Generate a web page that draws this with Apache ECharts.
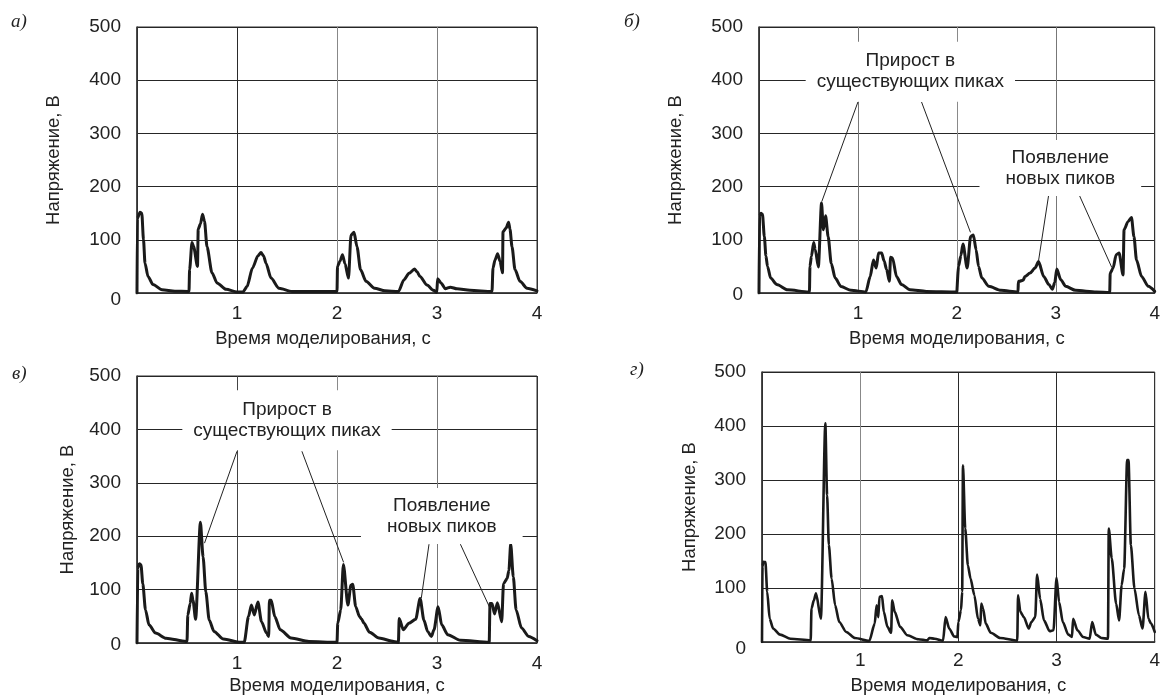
<!DOCTYPE html>
<html>
<head>
<meta charset="utf-8">
<script src="https://cdn.jsdelivr.net/npm/echarts@6/dist/echarts.min.js"></script>
<style>
  html, body { margin: 0; padding: 0; background: #fff; }
  #chart { width: 1163px; height: 696px; }
</style>
</head>
<body>
<div id="chart"></div>
<script>
// Tick values and axis captions shared by all four panels
const xTicks = [0, 1, 2, 3, 4];
const yTicks = [0, 100, 200, 300, 400, 500];
const panelLetters = ['а)', 'б)', 'в)', 'г)'];
const timeAxisName = 'Время моделирования, с';
const voltAxisName = 'Напряжение, В';

// Voltage traces, [time s, voltage V]
const voltageA = [
  [0, 0], [0.004, 140], [0.03, 152], [0.048, 150], [0.065, 100], [0.08, 56], [0.11, 31], [0.16, 16], [0.25, 6], [0.38, 3.5], [0.51, 3],
  [0.52, 3], [0.526, 44], [0.55, 95], [0.565, 88], [0.605, 50], [0.612, 120], [0.635, 130], [0.655, 148], [0.675, 135], [0.70, 87],
  [0.75, 38], [0.80, 19], [0.89, 7], [1.0, 2],
  [1.06, 2], [1.10, 12], [1.155, 47], [1.21, 70], [1.24, 76], [1.265, 70], [1.29, 56], [1.34, 28], [1.42, 9], [1.55, 3], [1.8, 3],
  [2.0, 3], [2.005, 50], [2.03, 60], [2.055, 72], [2.08, 55], [2.115, 28], [2.14, 109], [2.17, 114], [2.2, 87], [2.235, 44],
  [2.29, 22], [2.375, 9], [2.48, 4], [2.615, 3],
  [2.67, 25], [2.72, 37], [2.775, 45], [2.8, 40], [2.83, 31], [2.9, 15], [2.965, 5], [2.998, 1],
  [3.006, 27], [3.04, 19], [3.083, 8], [3.133, 11], [3.2, 8], [3.33, 5], [3.55, 3],
  [3.56, 47], [3.58, 62], [3.606, 74], [3.63, 60], [3.655, 38], [3.66, 115], [3.69, 122], [3.716, 133], [3.73, 120], [3.75, 87],
  [3.78, 44], [3.83, 22], [3.9, 9], [4.0, 4]
];

const voltageB = [
  [0, 0], [0.006, 145], [0.02, 150], [0.035, 148], [0.054, 106], [0.07, 70], [0.086, 50], [0.118, 28], [0.18, 16], [0.29, 6], [0.5, 2],
  [0.51, 2], [0.515, 50], [0.53, 69], [0.553, 95], [0.568, 82], [0.6, 49], [0.632, 169], [0.651, 119], [0.673, 145], [0.699, 106],
  [0.73, 56], [0.77, 28], [0.83, 12], [0.93, 5], [1.08, 2],
  [1.124, 31], [1.157, 62], [1.185, 47], [1.208, 75], [1.24, 75], [1.265, 60], [1.29, 44], [1.318, 22], [1.33, 67], [1.35, 66],
  [1.39, 31], [1.44, 16], [1.526, 6], [1.69, 3], [2.0, 2],
  [2.005, 2], [2.017, 50], [2.04, 70], [2.062, 92], [2.104, 47], [2.139, 106], [2.167, 109], [2.195, 81], [2.219, 50], [2.253, 28],
  [2.323, 12.5], [2.445, 5], [2.618, 2],
  [2.622, 22], [2.632, 22], [2.67, 24], [2.688, 31], [2.74, 37.5], [2.79, 47], [2.826, 59], [2.878, 31], [2.93, 16], [2.965, 7],
  [2.99, 20], [3.01, 45], [3.05, 25], [3.1, 12.5], [3.2, 5], [3.41, 2], [3.545, 1],
  [3.55, 37.5], [3.58, 47], [3.61, 72], [3.64, 75], [3.68, 34], [3.69, 119], [3.73, 134], [3.765, 142], [3.79, 106], [3.816, 62],
  [3.867, 31], [3.935, 12.5], [4.0, 3]
];

const voltageC = [
  [0, 0], [0.008, 140], [0.024, 148.5], [0.04, 146], [0.058, 111], [0.085, 62], [0.12, 34], [0.186, 18.6], [0.29, 9], [0.49, 3],
  [0.5, 3], [0.508, 52.6], [0.532, 74], [0.546, 93], [0.56, 80], [0.586, 44.5], [0.634, 226], [0.661, 161], [0.688, 96], [0.722, 43],
  [0.77, 21.7], [0.864, 7.4], [1.036, 1.2], [1.072, 1.2],
  [1.115, 49.5], [1.144, 71], [1.173, 52.6], [1.209, 77], [1.245, 40], [1.295, 18.6], [1.317, 12.4], [1.324, 80], [1.342, 80],
  [1.378, 49.5], [1.432, 24.8], [1.54, 9.3], [1.72, 3], [1.99, 1.2],
  [2.0, 1.2], [2.0075, 37], [2.037, 62], [2.064, 147], [2.109, 71], [2.139, 108], [2.157, 110], [2.187, 68], [2.225, 49.5],
  [2.245, 45], [2.27, 37], [2.326, 20], [2.419, 9.3], [2.569, 3], [2.614, 1],
  [2.622, 46], [2.663, 24.8], [2.719, 37], [2.787, 44.5], [2.831, 83.5], [2.869, 43], [2.906, 21.7], [2.944, 12.4], [2.97, 24.8],
  [3.011, 68], [3.047, 34], [3.108, 15.5], [3.234, 5], [3.522, 1.2],
  [3.53, 74], [3.55, 74], [3.576, 54.5], [3.604, 75.5], [3.647, 40], [3.665, 111], [3.701, 120.7], [3.719, 136], [3.737, 185.6],
  [3.763, 124], [3.791, 62], [3.845, 28], [3.917, 12.4], [4.0, 4.3]
];

const voltageD = [
  [0, 0], [0.005, 140], [0.014, 148.5], [0.035, 148], [0.053, 93], [0.078, 43], [0.113, 25], [0.184, 13.6], [0.29, 6], [0.496, 3],
  [0.504, 62], [0.528, 77], [0.55, 90], [0.6, 43], [0.645, 405], [0.663, 272], [0.681, 179.5], [0.709, 117.6], [0.745, 68],
  [0.787, 37], [0.858, 18.6], [0.947, 7.4], [1.093, 2],
  [1.148, 34], [1.167, 68], [1.185, 46], [1.196, 83.5], [1.222, 85], [1.241, 55.7], [1.278, 28], [1.315, 17], [1.326, 77],
  [1.352, 55.7], [1.407, 28], [1.481, 12.4], [1.593, 5], [1.685, 3], [1.704, 7.4], [1.759, 6], [1.844, 2.5],
  [1.87, 46], [1.907, 25], [1.956, 10.5], [1.99, 9],
  [2.0, 37], [2.027, 59], [2.039, 93], [2.047, 327], [2.07, 210], [2.097, 142], [2.124, 117.6], [2.163, 86.6], [2.2, 43], [2.225, 31],
  [2.233, 71], [2.252, 62], [2.279, 34], [2.33, 17], [2.426, 7.4], [2.6, 2.5],
  [2.608, 86.6], [2.632, 55.7], [2.667, 46], [2.717, 25], [2.744, 37], [2.783, 46], [2.802, 125], [2.833, 80], [2.872, 40],
  [2.93, 20], [2.969, 21.7], [3.0, 119], [3.026, 74], [3.064, 37], [3.12, 13.6], [3.157, 9.3], [3.169, 43], [3.213, 21.7],
  [3.27, 9.3], [3.337, 6], [3.363, 37], [3.4, 13.6], [3.457, 7.4], [3.524, 6],
  [3.532, 210], [3.562, 155], [3.607, 71], [3.637, 40], [3.663, 105], [3.689, 136], [3.719, 337], [3.733, 337], [3.757, 179.5],
  [3.794, 99], [3.839, 49.5], [3.876, 25], [3.906, 93], [3.936, 43], [3.963, 34], [4.0, 18.6]
];

// Callout texts, their centres and leader lines (data coordinates)
const growthText = 'Прирост в\nсуществующих пиках';
const newPeaksText = 'Появление\nновых пиков';
const calloutsB = [[1.53, 416], [3.046, 235]];
const leadersB = [
  [[1.0, 359], [0.635, 172]],
  [[1.643, 359], [2.1375, 114]],
  [[2.927, 183], [2.826, 61]],
  [[3.24, 183], [3.566, 48]]
];
const calloutsC = [[1.50, 417], [3.048, 238]];
const leadersC = [
  [[1.0, 359], [0.675, 187]],
  [[1.649, 359], [2.066, 151]],
  [[2.92, 185], [2.843, 84]],
  [[3.234, 185], [3.528, 66]]
];

const ink = '#1a1a1a';
const font = 'Liberation Sans, Arial, sans-serif';
const tickSize = 19;

// Plot frames in pixels
const grids = [
  { left: 137, top: 27, width: 400, height: 266 },
  { left: 759, top: 27, width: 399, height: 266 },
  { left: 137, top: 376, width: 400, height: 270 },
  { left: 762, top: 372, width: 399, height: 270 }
];
const yNameGaps = [74, 74, 60, 63];
const xNameGaps = [36, 36, 33, 34];
const xNameShift = [28, 0, 0, 0];
const xLabelMargins = [11, 11, 11, 9];
const zeroDrop = [13, 4, 4, 13];
const vLineColors = [
  ['#333', '#2a2a2a', '#888', '#808080', '#333'],
  ['#333', '#777', '#8a8a8a', '#777', '#333'],
  ['#333', '#444', '#8a8a8a', '#777', '#333'],
  ['#333', '#888', '#2a2a2a', '#2a2a2a', '#333']
];

function xAxisFor(i) {
  return {
    type: 'value', gridIndex: i, min: xTicks[0], max: xTicks[xTicks.length - 1], interval: 1,
    name: timeAxisName, nameLocation: 'middle', nameGap: xNameGaps[i],
    nameTextStyle: { fontFamily: font, fontSize: 18.5, color: '#222', padding: [0, xNameShift[i], 0, 0] },
    axisLine: { show: true, onZero: false, lineStyle: { color: '#333', width: 1.5 } },
    axisTick: { show: false },
    axisLabel: { showMinLabel: false, margin: xLabelMargins[i], fontFamily: font, fontSize: tickSize, color: '#222' },
    splitLine: { show: true, lineStyle: { color: vLineColors[i], width: 1 } }
  };
}

function yAxisFor(i) {
  return {
    type: 'value', gridIndex: i, min: yTicks[0], max: yTicks[yTicks.length - 1], interval: 100,
    name: voltAxisName, nameLocation: 'middle', nameGap: yNameGaps[i], nameRotate: 90,
    nameTextStyle: { fontFamily: font, fontSize: 18.5, color: '#222' },
    axisLine: { show: true, lineStyle: { color: '#333', width: 1.5 } },
    axisTick: { show: false },
    axisLabel: {
      margin: 16, fontFamily: font, fontSize: tickSize, color: '#222',
      formatter: v => (v === 0 ? '{z|0}' : String(v)),
      rich: { z: { fontFamily: font, fontSize: tickSize, color: '#222', padding: [zeroDrop[i], 0, 0, 0] } }
    },
    splitLine: { show: true, lineStyle: { color: '#262626', width: 1 } }
  };
}

function calloutPoints(centres) {
  const texts = [growthText, newPeaksText];
  const pads = [[9, 11], [7, 26]];
  return {
    silent: true,
    symbol: 'rect',
    symbolSize: 1,
    itemStyle: { color: 'rgba(0,0,0,0)' },
    data: centres.map((c, k) => ({
      coord: c,
      label: {
        show: true, position: 'inside', formatter: texts[k],
        fontFamily: font, fontSize: 19, lineHeight: 21, color: '#222',
        backgroundColor: '#fff', padding: pads[k], align: 'center', verticalAlign: 'middle'
      }
    }))
  };
}

function leaderLines(pairs) {
  return {
    silent: true,
    symbol: ['none', 'none'],
    label: { show: false },
    lineStyle: { color: '#222', width: 1, type: 'solid' },
    emphasis: { disabled: true },
    data: pairs.map(p => [{ coord: p[0] }, { coord: p[1] }])
  };
}

function trace(i, data, extra) {
  return Object.assign({
    type: 'line', xAxisIndex: i, yAxisIndex: i, data: data,
    showSymbol: false, symbol: 'none', smooth: 0.25, smoothMonotone: 'x',
    lineStyle: { color: ink, width: i === 3 ? 2.6 : 3, join: 'round', cap: 'round' },
    silent: true, z: 3
  }, extra || {});
}

const chart = echarts.init(document.getElementById('chart'), null, { renderer: 'canvas' });

const letterPos = [[11, 12], [624, 12], [12, 364], [630, 360]];

chart.setOption({
  animation: false,
  backgroundColor: '#fff',
  title: panelLetters.map((t, i) => ({
    text: t, left: letterPos[i][0], top: letterPos[i][1], padding: 0,
    textStyle: { fontFamily: 'Liberation Serif, DejaVu Serif, serif', fontStyle: 'italic', fontWeight: 'normal', fontSize: 19, color: '#222' }
  })),
  grid: grids.map(g => Object.assign({ show: true, borderColor: '#333', borderWidth: 1, containLabel: false }, g)),
  xAxis: [0, 1, 2, 3].map(xAxisFor),
  yAxis: [0, 1, 2, 3].map(yAxisFor),
  series: [
    trace(0, voltageA),
    trace(1, voltageB, { markLine: leaderLines(leadersB), markPoint: calloutPoints(calloutsB) }),
    trace(2, voltageC, { markLine: leaderLines(leadersC), markPoint: calloutPoints(calloutsC) }),
    trace(3, voltageD)
  ]
});
</script>
</body>
</html>
